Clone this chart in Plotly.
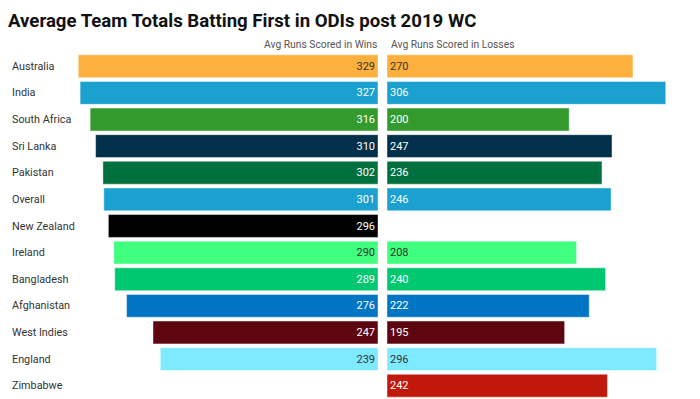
import plotly.graph_objects as go

teams = ["Australia", "India", "South Africa", "Sri Lanka", "Pakistan", "Overall",
         "New Zealand", "Ireland", "Bangladesh", "Afghanistan", "West Indies",
         "England", "Zimbabwe"]
wins = [329, 327, 316, 310, 302, 301, 296, 290, 289, 276, 247, 239, None]
losses = [270, 306, 200, 247, 236, 246, None, 208, 240, 222, 195, 296, 242]
colors = ["#fdb03c", "#1aa1d0", "#339a2e", "#03304a", "#01703f", "#1aa1d0",
          "#000000", "#40fe7e", "#00c870", "#0075c3", "#5e0610", "#7eeaff", "#c0190c"]
text_colors = ["#333333", "white", "white", "white", "white", "white",
               "white", "#333333", "white", "white", "white", "#333333", "white"]

# page body has an 8px default margin; compensate
O = 8
W, H = 700 - O, 399 - O
rng = 332.6


def px(x):
    return (x - O) / W


fig = go.Figure()
fig.add_trace(go.Bar(
    y=teams, x=wins, orientation="h", xaxis="x", yaxis="y",
    marker=dict(color=colors, line=dict(color="rgba(255,255,255,0.45)", width=1)),
    text=[str(v) if v is not None else "" for v in wins],
    textposition="inside", insidetextanchor="start",
    textfont=dict(family="Roboto", size=11, color=text_colors),
    constraintext="none", width=0.86, hoverinfo="skip",
))
fig.add_trace(go.Bar(
    y=teams, x=losses, orientation="h", xaxis="x2", yaxis="y",
    marker=dict(color=colors, line=dict(color="rgba(255,255,255,0.45)", width=1)),
    text=[str(v) if v is not None else "" for v in losses],
    textposition="inside", insidetextanchor="start",
    textfont=dict(family="Roboto", size=11, color=text_colors),
    constraintext="none", width=0.86, hoverinfo="skip",
))

top = 53 - O
plot_h = H - top

annotations = []
for t in teams:
    annotations.append(dict(text=t, xref="paper", x=px(10), xanchor="left",
                            yref="y", y=t, yanchor="middle", showarrow=False,
                            font=dict(family="Roboto", size=10.8, color="#333333")))
annotations.append(dict(text="Avg Runs Scored in Wins", xref="paper", x=px(379),
                        xanchor="right", yref="paper", y=1 + 9 / plot_h, yanchor="middle",
                        showarrow=False, font=dict(family="Roboto", size=10.3, color="#555555")))
annotations.append(dict(text="Avg Runs Scored in Losses", xref="paper", x=px(389),
                        xanchor="left", yref="paper", y=1 + 9 / plot_h, yanchor="middle",
                        showarrow=False, font=dict(family="Roboto", size=10.3, color="#555555")))

fig.update_layout(
    width=W, height=H,
    margin=dict(l=0, r=0, t=top, b=0),
    paper_bgcolor="white", plot_bgcolor="white",
    showlegend=False,
    title=dict(text="<b>Average Team Totals Batting First in ODIs post 2019 WC</b>",
               x=0, xanchor="left", xref="container",
               y=1 - (20 - O) / H, yanchor="middle",
               font=dict(family="Roboto", size=18.6, color="#111111")),
    xaxis=dict(domain=[px(75), px(378)], range=[rng, 0], visible=False, fixedrange=True),
    xaxis2=dict(domain=[px(387), px(690)], range=[0, rng], visible=False,
                anchor="y", fixedrange=True),
    yaxis=dict(categoryorder="array", categoryarray=teams, autorange="reversed",
               visible=False, fixedrange=True),
    annotations=annotations,
    bargap=0.14,
)

fig.write_html("out.html")
